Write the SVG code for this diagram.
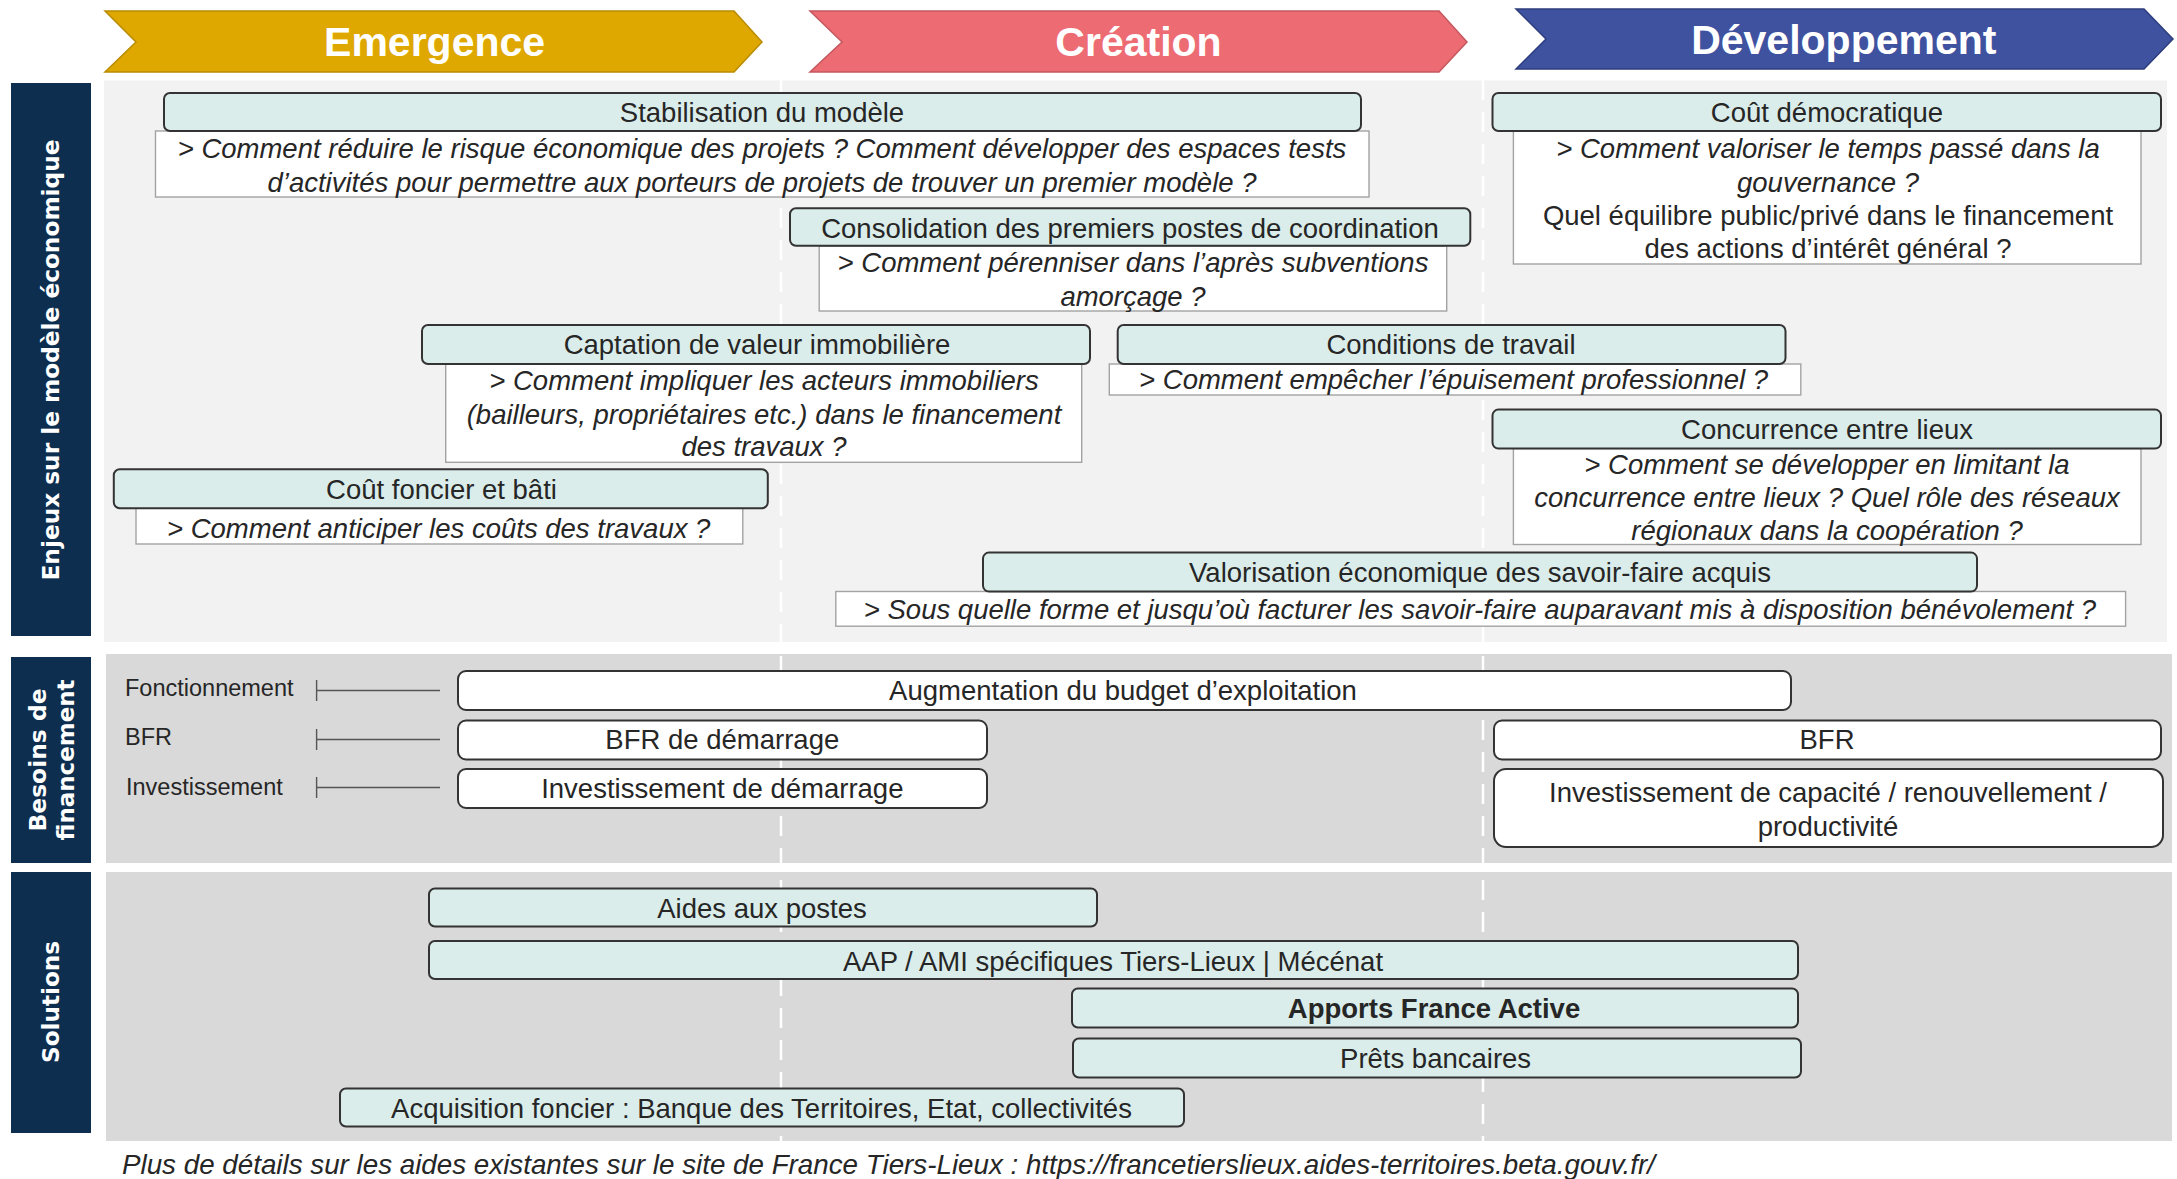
<svg xmlns="http://www.w3.org/2000/svg" width="2177" height="1179" viewBox="0 0 2177 1179">
<style>
text{font-family:"Liberation Sans",Arial,sans-serif;fill:#262626;}
.t{font-size:27.5px;text-anchor:middle;}
.i{font-size:27.5px;text-anchor:middle;font-style:italic;}
.lab{font-size:23.5px;}
.chev{font-size:41px;font-weight:bold;fill:#fff;text-anchor:middle;}
.nav{font-family:"DejaVu Sans",Verdana,sans-serif;font-size:23px;font-weight:bold;fill:#fff;text-anchor:middle;}
.hdr{fill:#DAEDEA;stroke:#333;stroke-width:2;}
.det{fill:#fff;stroke:#A3A3A3;stroke-width:1.4;}
.wb{fill:#fff;stroke:#333;stroke-width:2;}
.navr{fill:#0D2E4F;}
.dash{stroke:#fff;stroke-width:2.5;stroke-dasharray:20 12;fill:none;}
.tick{stroke:#555;stroke-width:1.4;fill:none;}
</style>
<rect width="2177" height="1179" fill="#fff"/>

<!-- phase chevrons -->
<g id="phase-emergence">
<polygon points="105,11 734,11 762,42 734,72 105,72 136,42" fill="#DFA800" stroke="#B98C00" stroke-width="1.5"/>
<text class="chev" x="434.6" y="56">Emergence</text>
</g>
<g id="phase-creation">
<polygon points="810,11 1439,11 1467,42 1439,72 810,72 842,42" fill="#ED6B73" stroke="#C4585F" stroke-width="1.5"/>
<text class="chev" x="1138.5" y="56">Création</text>
</g>
<g id="phase-developpement">
<polygon points="1516,9 2144,9 2173,39 2144,69 1516,69 1546,39" fill="#3F52A0" stroke="#2E3D7E" stroke-width="1.5"/>
<text class="chev" x="1843.8" y="53.5">Développement</text>
</g>

<!-- panels -->
<rect x="104" y="80.5" width="2063" height="561.5" fill="#F2F2F2"/>
<rect x="106" y="654" width="2066" height="209" fill="#D9D9D9"/>
<rect x="106" y="872" width="2066" height="269" fill="#D9D9D9"/>
<line class="dash" x1="781" y1="80" x2="781" y2="1141"/>
<line class="dash" x1="1483" y1="80" x2="1483" y2="1141"/>

<!-- row labels -->
<g id="row-enjeux">
<rect class="navr" x="11" y="83" width="80" height="553"/>
<text class="nav" transform="translate(59.3,360) rotate(-90)" textLength="441" lengthAdjust="spacingAndGlyphs">Enjeux sur le modèle économique</text>
</g>
<g id="row-besoins">
<rect class="navr" x="11" y="657" width="80" height="206"/>
<text class="nav" transform="translate(46,760) rotate(-90)" textLength="143" lengthAdjust="spacingAndGlyphs">Besoins de</text>
<text class="nav" transform="translate(73.5,760) rotate(-90)" textLength="161" lengthAdjust="spacingAndGlyphs">financement</text>
</g>
<g id="row-solutions">
<rect class="navr" x="11" y="872" width="80" height="261"/>
<text class="nav" transform="translate(59.3,1002) rotate(-90)" textLength="122" lengthAdjust="spacingAndGlyphs">Solutions</text>
</g>

<!-- Enjeux -->
<g id="stabilisation">
<rect class="det" x="155.5" y="131" width="1213.5" height="66"/>
<rect class="hdr" x="164" y="93" width="1197" height="38" rx="6"/>
<text class="t" x="762" y="122">Stabilisation du modèle</text>
<text class="i" x="762" y="158">&gt; Comment réduire le risque économique des projets ? Comment développer des espaces tests</text>
<text class="i" x="762" y="192">d’activités pour permettre aux porteurs de projets de trouver un premier modèle ?</text>
</g>
<g id="cout-democratique">
<rect class="det" x="1513.4" y="131" width="627.6" height="133"/>
<rect class="hdr" x="1492.5" y="93" width="668.5" height="38" rx="6"/>
<text class="t" x="1827" y="122">Coût démocratique</text>
<text class="i" x="1828" y="158">&gt; Comment valoriser le temps passé dans la</text>
<text class="i" x="1828" y="192">gouvernance ?</text>
<text class="t" x="1828" y="225">Quel équilibre public/privé dans le financement</text>
<text class="t" x="1828" y="258">des actions d’intérêt général ?</text>
</g>
<g id="consolidation">
<rect class="det" x="819.2" y="246" width="627.5" height="65"/>
<rect class="hdr" x="790" y="208.3" width="680.3" height="37.4" rx="6"/>
<text class="t" x="1130" y="237.5">Consolidation des premiers postes de coordination</text>
<text class="i" x="1133" y="272">&gt; Comment pérenniser dans l’après subventions</text>
<text class="i" x="1133" y="305.5">amorçage ?</text>
</g>
<g id="captation">
<rect class="det" x="445.7" y="364" width="636" height="98.3"/>
<rect class="hdr" x="422" y="325" width="668" height="39" rx="6"/>
<text class="t" x="757" y="354">Captation de valeur immobilière</text>
<text class="i" x="764" y="390">&gt; Comment impliquer les acteurs immobiliers</text>
<text class="i" x="764" y="423.5">(bailleurs, propriétaires etc.) dans le financement</text>
<text class="i" x="764" y="455.5">des travaux ?</text>
</g>
<g id="conditions">
<rect class="det" x="1109.3" y="364" width="691.5" height="31"/>
<rect class="hdr" x="1117.7" y="325" width="667.8" height="39" rx="6"/>
<text class="t" x="1451" y="354">Conditions de travail</text>
<text class="i" x="1453.6" y="389">&gt; Comment empêcher l’épuisement professionnel ?</text>
</g>
<g id="concurrence">
<rect class="det" x="1513.4" y="448.5" width="627.6" height="96"/>
<rect class="hdr" x="1492.5" y="409.6" width="668.5" height="39" rx="6"/>
<text class="t" x="1827" y="439">Concurrence entre lieux</text>
<text class="i" x="1827" y="473.5">&gt; Comment se développer en limitant la</text>
<text class="i" x="1827" y="507">concurrence entre lieux ? Quel rôle des réseaux</text>
<text class="i" x="1827" y="540">régionaux dans la coopération ?</text>
</g>
<g id="cout-foncier">
<rect class="det" x="136" y="508" width="606.8" height="36"/>
<rect class="hdr" x="113.8" y="469.3" width="654" height="39" rx="6"/>
<text class="t" x="441.5" y="498.5">Coût foncier et bâti</text>
<text class="i" x="438.7" y="537.5">&gt; Comment anticiper les coûts des travaux ?</text>
</g>
<g id="valorisation">
<rect class="det" x="835.8" y="591.5" width="1289.8" height="34.7"/>
<rect class="hdr" x="983" y="552.6" width="994" height="39" rx="6"/>
<text class="t" x="1480" y="582">Valorisation économique des savoir-faire acquis</text>
<text class="i" x="1480" y="619">&gt; Sous quelle forme et jusqu’où facturer les savoir-faire auparavant mis à disposition bénévolement ?</text>
</g>

<!-- Besoins de financement -->
<g id="label-fonctionnement"><text class="lab" x="125" y="695.5">Fonctionnement</text></g>
<g id="label-bfr"><text class="lab" x="125" y="744.5">BFR</text></g>
<g id="label-investissement"><text class="lab" x="126" y="794.5">Investissement</text></g>
<g id="connectors">
<path class="tick" d="M316.6,680 V701 M316.6,690.5 H440"/>
<path class="tick" d="M316.6,729 V750 M316.6,739.5 H440"/>
<path class="tick" d="M316.6,777 V798 M316.6,787.5 H440"/>
</g>
<g id="augmentation-budget">
<rect class="wb" x="458" y="671" width="1333" height="39" rx="8"/>
<text class="t" x="1123" y="699.5">Augmentation du budget d’exploitation</text>
</g>
<g id="bfr-demarrage">
<rect class="wb" x="458" y="720.5" width="529" height="39" rx="8"/>
<text class="t" x="722.3" y="749">BFR de démarrage</text>
</g>
<g id="investissement-demarrage">
<rect class="wb" x="458" y="769" width="529" height="39" rx="8"/>
<text class="t" x="722.3" y="798">Investissement de démarrage</text>
</g>
<g id="bfr">
<rect class="wb" x="1494" y="720.5" width="667" height="39" rx="8"/>
<text class="t" x="1827" y="749">BFR</text>
</g>
<g id="investissement-capacite">
<rect class="wb" x="1494" y="769" width="669" height="78" rx="12"/>
<text class="t" x="1828" y="802">Investissement de capacité / renouvellement /</text>
<text class="t" x="1828" y="836">productivité</text>
</g>

<!-- Solutions -->
<g id="aides-postes">
<rect class="hdr" x="429" y="888.5" width="668" height="38" rx="6"/>
<text class="t" x="762" y="918">Aides aux postes</text>
</g>
<g id="aap-ami">
<rect class="hdr" x="429" y="941" width="1369" height="38" rx="6"/>
<text class="t" x="1113" y="970.5">AAP / AMI spécifiques Tiers-Lieux | Mécénat</text>
</g>
<g id="apports-france-active">
<rect class="hdr" x="1072" y="988.5" width="726" height="39" rx="6"/>
<text class="t" x="1434" y="1018" font-weight="bold">Apports France Active</text>
</g>
<g id="prets-bancaires">
<rect class="hdr" x="1073" y="1038.5" width="728" height="39" rx="6"/>
<text class="t" x="1435.6" y="1068">Prêts bancaires</text>
</g>
<g id="acquisition-foncier">
<rect class="hdr" x="340" y="1088.5" width="844" height="38" rx="6"/>
<text class="t" x="761.5" y="1118">Acquisition foncier : Banque des Territoires, Etat, collectivités</text>
</g>

<!-- footer -->
<g id="footer">
<rect x="106" y="1141" width="1667" height="38" fill="#fff"/>
<text x="122" y="1174" font-size="27.5" font-style="italic" textLength="1533" lengthAdjust="spacingAndGlyphs">Plus de détails sur les aides existantes sur le site de France Tiers-Lieux : https://francetierslieux.aides-territoires.beta.gouv.fr/</text>
</g>
</svg>
